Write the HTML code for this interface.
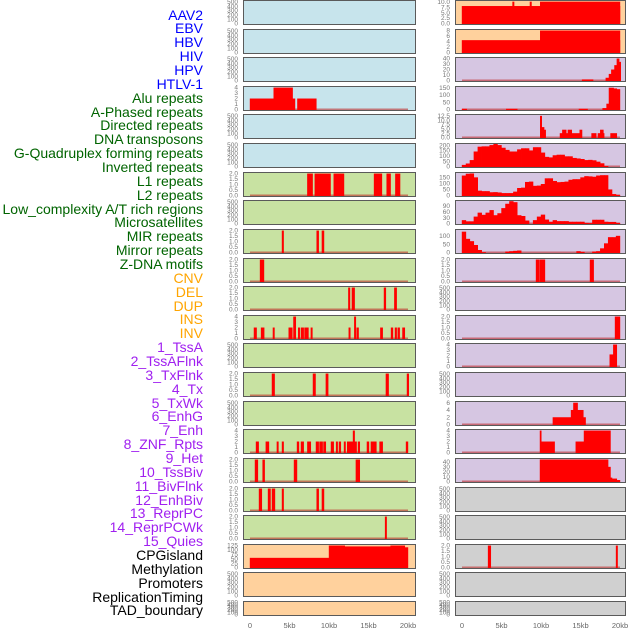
<!DOCTYPE html>
<html><head><meta charset="utf-8">
<style>
html,body{margin:0;padding:0;background:#fff;}
body{width:630px;height:630px;overflow:hidden;position:relative;font-family:"Liberation Sans",sans-serif;}
.lab{position:absolute;right:427px;font-size:14px;line-height:14px;white-space:nowrap;}
svg{position:absolute;left:0;top:0;}
</style></head>
<body>
<div id="labels"></div>
<svg id="chart" width="630" height="630"></svg>
<script>
const labelTexts = ["AAV2","EBV","HBV","HIV","HPV","HTLV-1","Alu repeats","A-Phased repeats","Directed repeats","DNA transposons","G-Quadruplex forming repeats","Inverted repeats","L1 repeats","L2 repeats","Low_complexity A/T rich regions","Microsatellites","MIR repeats","Mirror repeats","Z-DNA motifs","CNV","DEL","DUP","INS","INV","1_TssA","2_TssAFlnk","3_TxFlnk","4_Tx","5_TxWk","6_EnhG","7_Enh","8_ZNF_Rpts","9_Het","10_TssBiv","11_BivFlnk","12_EnhBiv","13_ReprPC","14_ReprPCWk","15_Quies","CPGisland","Methylation","Promoters","ReplicationTiming","TAD_boundary"];
const labelGroups = ["v","v","v","v","v","v","r","r","r","r","r","r","r","r","r","r","r","r","r","s","s","s","s","s","c","c","c","c","c","c","c","c","c","c","c","c","c","c","c","o","o","o","o","o"];
const xTickLabels = ["0","5kb","10kb","15kb","20kb"];
const xTickValues = [0,5,10,15,20];

const ticks500 = [0,100,200,300,400,500];
const ticks2 = [0,0.5,1,1.5,2];
const ticks4 = [0,1,2,3,4];

// left column segments [startKb,endKb,value]
const segAlu = [[0,3,2],[3,5.4,4],[5.4,5.7,2],[6,8.4,2]];
const segL1 = [[7.26,7.93,2],[8.2,10.2,2],[10.6,11.9,2],[15.7,16.7,2],[17.3,17.8,2],[18.4,19.0,2]];
const segMIR = [[4.05,4.26,2],[8.44,8.7,2],[9.1,9.37,2]];
const segZdna = [[1.27,1.77,2]];
const segDel = [[12.45,12.66,2],[12.9,13.25,2],[16.96,17.2,2],[18.27,18.57,2]];
const segIns = [[0.5,0.84,2],[1.4,1.8,2],[2.9,3.1,2],[4.9,5.36,2],[5.5,5.8,4],[6.1,6.3,2],[6.45,6.8,2],[6.9,7.4,2],[7.7,7.9,2],[12.5,12.7,2],[13.2,13.4,4],[13.5,13.75,2],[16.5,16.8,2],[17.85,18.1,2],[18.35,18.57,2],[18.7,18.95,2],[19.3,19.6,2]];
const segTx = [[2.78,3.12,2],[7.97,8.3,2],[9.6,9.9,2],[17.2,17.55,2],[19.87,20.1,2]];
const segEnh = [[0.76,1.1,2],[2.0,2.4,2],[3.4,3.6,2],[4.05,4.26,2],[5.95,6.2,2],[6.45,6.8,2],[7.26,7.7,2],[8.35,8.7,2],[8.8,9.2,2],[9.3,9.6,2],[10.25,10.6,2],[10.9,11.1,2],[11.26,11.5,2],[11.9,12.1,2],[12.3,13.04,2],[13.04,13.25,4],[13.25,13.5,2],[13.67,13.9,2],[14.8,15.06,2],[15.3,16.0,2],[16.4,16.8,2],[19.75,20.0,2]];
const segHet = [[0.63,1.0,2],[1.6,1.86,2],[5.57,5.95,2],[13.4,13.9,2]];
const segBiv = [[1.14,1.5,2],[2.28,2.6,2],[2.78,3.16,2],[4.05,4.26,2],[8.44,8.7,2],[9.1,9.37,2]];
const segRepr = [[17.1,17.3,2]];
const segCpg = [[0,10,55],[10,12,125],[12,17.8,120],[17.8,19.6,125],[19.6,20,115]];

// right column segments
const segAav2R = [[0,20,8],[9.9,20,10],[6.4,6.6,10],[8.6,8.8,10]];
const segHbvR = [[0,20,4.5],[9.9,20,8]];
const segHpvR = [[15.2,16.6,2],[18.2,18.6,5],[18.6,18.9,12],[18.9,19.3,20],[19.3,19.6,28],[19.6,19.9,40],[19.9,20.1,34]];
const segAluR = [[0,0.6,5],[5.6,7,5],[14.8,15.9,5],[17.8,18.3,10],[18.3,18.6,40],[18.6,19.2,150],[19.2,19.6,145],[19.6,20,140]];
const segDirR = [[9.9,10.1,12.5],[10.1,10.4,6],[10.4,10.6,4.5],[12.4,12.7,2.5],[12.7,13.2,4.5],[13.2,13.4,2.5],[13.4,13.9,4.5],[13.9,14.9,2.5],[14.9,15.2,4.5],[16.4,17.0,2.5],[17.2,17.5,2.5],[17.5,17.9,4.5],[17.9,18.0,2.5],[18.8,19.6,2.5]];
const binsGquad = [15,28,60,140,185,188,188,200,210,200,175,155,140,140,160,170,170,150,180,180,130,90,85,105,110,110,95,95,80,75,70,60,62,58,45,30,5,0,0,0];
const binsL1R = [165,180,182,150,40,36,36,27,28,25,20,20,20,32,62,65,112,115,80,82,95,142,142,120,110,112,115,130,135,135,150,160,158,155,165,168,168,50,12,5];
const binsLowR = [17,11,11,35,55,44,55,68,42,52,78,100,113,108,42,38,15,0,17,35,45,20,9,17,12,12,12,9,9,9,9,3,2,19,19,19,9,8,8,3];
const binsMirR = [125,82,68,45,15,2,0,0,0,0,0,6,8,10,12,0,0,0,0,0,0,0,0,0,0,0,0,0,0,8,4,0,0,6,8,25,55,92,92,100];
const segZdnaR = [[9.37,9.8,2],[9.87,10.5,2],[16.2,16.67,2]];
const segInsR = [[19.37,20,2]];
const segTssR = [[18.7,19.15,2.2],[19.15,19.6,4]];
const segTxwkR = [[11.5,13.8,2],[13.8,14.1,4],[14.1,14.64,6],[14.64,15.36,4],[15.36,15.65,2]];
const segEnhR = [[9.87,10.04,4],[10.04,11.73,2],[14.4,15.44,2],[15.44,18.8,4]];
const segHetR = [[9.87,18.5,45],[18.5,18.8,30],[18.8,19.0,8],[19.0,19.6,6],[19.6,20,3]];
const segCpgR = [[3.3,3.65,2],[19.5,19.7,2]];

function bins(a){return a.map((v,i)=>[i*0.5,(i+1)*0.5,v]);}

const C={b:"#c7e4ec",g:"#c8e2a2",p:"#ffd19d",l:"#d6c6e2",y:"#d0d0d0"};
const rows=[
 ["b",null,520,ticks500,"p",segAav2R,10.3,[0,2.5,5,7.5,10]],
 ["b",null,520,ticks500,"p",segHbvR,8.2,[0,2,4,6,8]],
 ["b",null,520,ticks500,"l",segHpvR,41,[0,10,20,30,40]],
 ["b",segAlu,4.1,ticks4,"l",segAluR,155,[0,50,100,150]],
 ["b",null,520,ticks500,"l",segDirR,13,[0,2.5,5,7.5,10,12.5]],
 ["b",null,520,ticks500,"l",bins(binsGquad),210,[0,50,100,150,200]],
 ["g",segL1,2.05,ticks2,"l",bins(binsL1R),186,[0,50,100,150]],
 ["g",null,520,ticks500,"l",bins(binsLowR),114,[0,30,60,90]],
 ["g",segMIR,2.05,ticks2,"l",bins(binsMirR),135,[0,50,100]],
 ["g",segZdna,2.05,ticks2,"l",segZdnaR,2.05,ticks2],
 ["g",segDel,2.05,ticks2,"l",null,520,ticks500],
 ["g",segIns,4.1,ticks4,"l",segInsR,2.05,ticks2],
 ["g",null,520,ticks500,"l",segTssR,4.1,ticks4],
 ["g",segTx,2.05,ticks2,"l",null,520,ticks500],
 ["g",null,520,ticks500,"l",segTxwkR,6.2,[0,2,4,6]],
 ["g",segEnh,4.1,ticks4,"l",segEnhR,4.1,ticks4],
 ["g",segHet,2.05,ticks2,"l",segHetR,46,[0,10,20,30,40]],
 ["g",segBiv,2.05,ticks2,"y",null,520,ticks500],
 ["g",segRepr,2.05,ticks2,"y",null,520,ticks500],
 ["p",segCpg,128,[0,25,50,75,100,125],"y",segCpgR,2.05,ticks2],
 ["p",null,520,ticks500,"y",null,520,ticks500],
 ["p",null,520,ticks500,"y",null,520,ticks500]
];

const NS="http://www.w3.org/2000/svg";
const svg=document.getElementById("chart");
function mk(t,a,p){const e=document.createElementNS(NS,t);for(const k in a)e.setAttribute(k,a[k]);(p||svg).appendChild(e);return e;}
const cols=[{x0:243,x1:416,z:250,k:7.9,tx:238},{x0:455,x1:626,z:462,k:7.9,tx:450}];
function xs(c,kb){return c.z+kb*c.k;}

function drawPanel(ri,ci,color,segs,ymax,ticks){
  const c=cols[ci];
  const top=Math.round(ri*28.62);
  const h= ri===21?15:25;
  const g=mk("g",{});
  
  
  const bg=mk("rect",{x:c.x0,y:top,width:c.x1-c.x0,height:h,fill:C[color]},g);
  
  
  const y0=top+h-1.5, y1=top+1;
  const ys=v=>y0-(v/ymax)*(y0-y1);
  if(segs){
    const bl=mk("rect",{x:xs(c,0),y:top+h-2.5,width:20*c.k,height:2,fill:"rgba(190,30,30,0.55)"},g);
    
    
    segs.forEach(s=>{
      if(s[2]<=0)return;
      const yy=Math.max(top,ys(s[2]));
      const r=mk("rect",{x:xs(c,s[0])-0.2,y:yy,width:Math.max(0.8,(s[1]-s[0])*c.k)+0.4,height:top+h-yy,fill:"#ff0000"},g);
      
      
    });
  }
  const br=mk("rect",{x:c.x0+0.5,y:top+0.5,width:c.x1-c.x0-1,height:h-1,fill:"none",stroke:"#5a5a5a","stroke-width":1},g);
  
  
  ticks.forEach(t=>{
    const ty=ys(t);
    if(ty>top+h+1)return;
    const tt=mk("text",{x:c.tx,y:ty+2.2,"font-size":"6.5","text-anchor":"end",fill:"#777","font-family":"Liberation Sans, sans-serif"},g);
    tt.textContent=(ticks===ticks2||ticks[1]===2.5)?t.toFixed(1):String(t);
    
    
  });
}
rows.forEach((r,i)=>{drawPanel(i,0,r[0],r[1],r[2],r[3]);drawPanel(i,1,r[4],r[5],r[6],r[7]);});

cols.forEach(c=>{
  xTickValues.forEach((v,i)=>{
    const t=mk("text",{x:xs(c,v),y:628,"font-size":"7.5","text-anchor":"middle",fill:"#666","font-family":"Liberation Sans, sans-serif"});
    t.textContent=xTickLabels[i];
    
    
  });
});

const GC={v:"#0000ff",r:"#006400",s:"#ffa500",c:"#a020f0",o:"#000000"};
const L=document.getElementById("labels");
labelTexts.forEach((t,i)=>{
  const d=document.createElement("div");
  d.className="lab";
  d.style.top=(15+13.86*i-7.5)+"px";
  d.style.color=GC[labelGroups[i]];
  d.textContent=t;
  
  
  L.appendChild(d);
});
</script>
</body></html>
